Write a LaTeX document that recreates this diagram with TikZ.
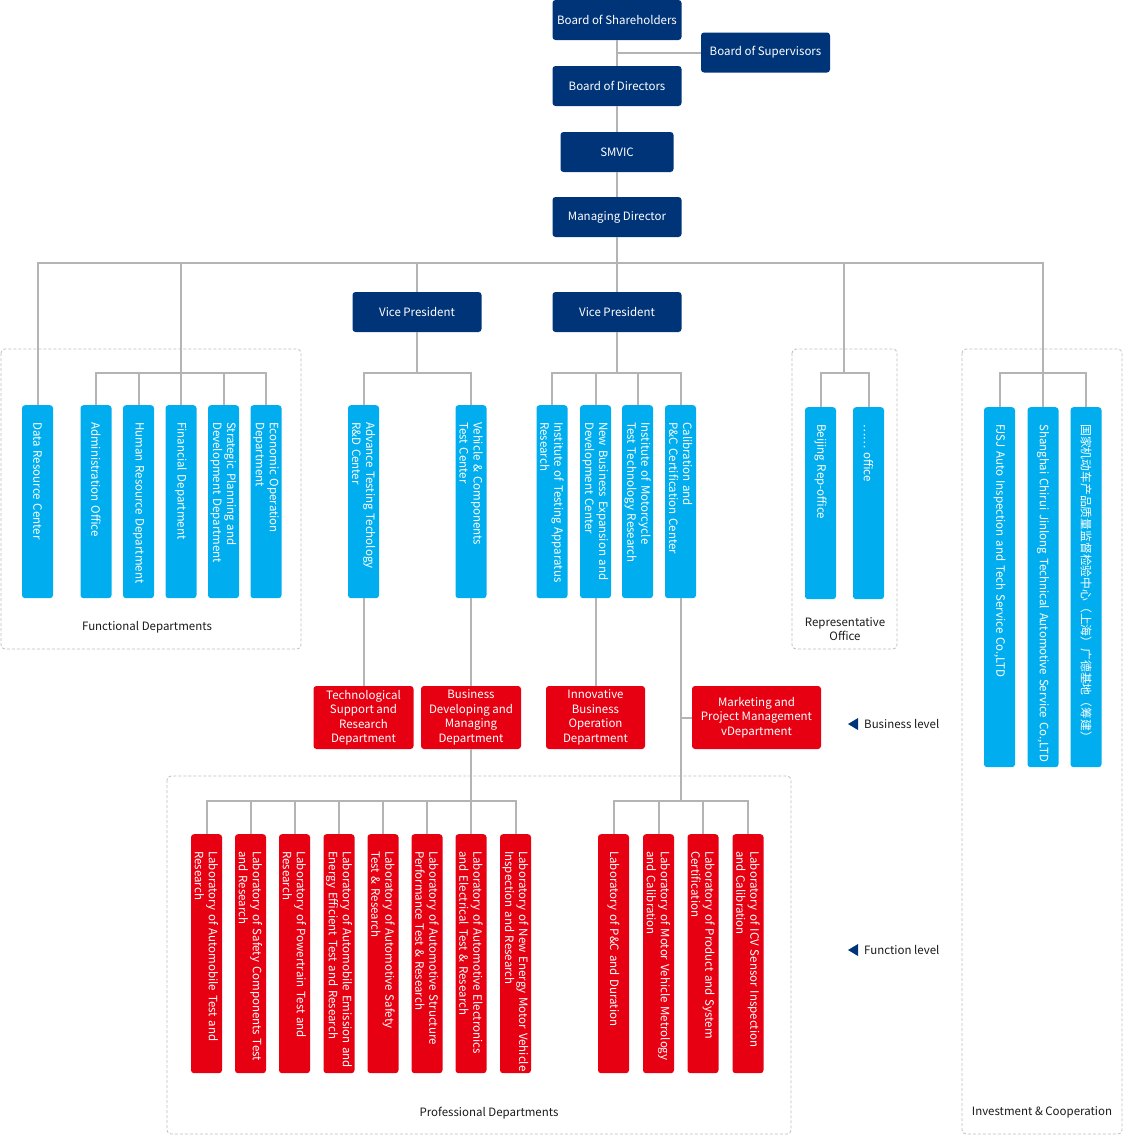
\documentclass[tikz,border=0pt]{standalone}
\usepackage{fontspec}
\setmainfont{Noto Sans CJK SC}
\usetikzlibrary{positioning}
\definecolor{SNavy}{HTML}{003478}
\definecolor{SSky}{HTML}{00AEEF}
\definecolor{SRed}{HTML}{E60012}
\definecolor{SGray}{HTML}{B4B4B4}
\definecolor{SDash}{HTML}{BDBDBD}
\definecolor{SInk}{HTML}{1A1A1A}
\newcommand{\chartfont}{\fontsize{11.5}{14}\selectfont}
\tikzset{
    topbox/.style = {fill=SNavy, text=white, rounded corners=3pt, inner sep=0pt,
        minimum height=40pt, minimum width=129pt, font=\chartfont},
    unitbox/.style = {fill=SRed, text=white, rounded corners=3pt, inner sep=0pt,
        minimum height=63pt, align=center, font=\fontsize{11.5}{14.5}\selectfont},
    colbox/.style = {rotate=-90, anchor=west, rounded corners=3pt, text=white,
        minimum height=31pt, minimum width=#1, text width=#1-2pt,
        inner xsep=1pt, inner ysep=0pt, align=left,
        execute at begin node={\leftskip=16pt\hyphenpenalty=10000}, font=\chartfont},
    bluecol/.style = {colbox=#1, fill=SSky},
    redcol/.style = {colbox=239pt, fill=SRed},
    link/.style = {draw=SGray, line width=2pt},
    groupframe/.style = {draw=SDash, dash pattern=on 3pt off 2pt, rounded corners=4pt, line width=0.8pt},
    grouplabel/.style = {text=SInk, align=center, font=\chartfont},
    levelmark/.style = {fill=SNavy},
    leveltext/.style = {anchor=west, text=SInk, inner sep=0pt, font=\chartfont}
}

\begin{document}
\begin{tikzpicture}[x=1pt,y=-1pt]
    \useasboundingbox (0,0) rectangle (1123,1135);
    \draw[groupframe] (1,349) rectangle (301,649);
    \draw[groupframe] (792,349) rectangle (897,649);
    \draw[groupframe] (962,349) rectangle (1122,1134);
    \draw[groupframe] (167,776) rectangle (791,1134);
    \node[grouplabel] (fdl) at (147,627) {Functional Departments};
    \node[grouplabel] (rol) at (845,629) {Representative\\Office};
    \node[grouplabel] (icl) at (1042,1112) {Investment \& Cooperation};
    \node[grouplabel] (pdl) at (489,1113) {Professional Departments};

    \node[topbox] (share) at (617,20) {Board of Shareholders};
    \node[topbox] (sup) at (765.5,52.5) {Board of Supervisors};
    \node[topbox] (board) at (617,86) {Board of Directors};
    \node[topbox, minimum width=113pt] (smvic) at (617,152) {SMVIC};
    \node[topbox] (md) at (617,217) {Managing Director};
    \node[topbox] (vp1) at (417,312) {Vice President};
    \node[topbox] (vp2) at (617,312) {Vice President};

    \node[bluecol=193pt] (drc) at (37.5,405) {Data Resource Center};
    \node[bluecol=193pt] (ado) at (96,405) {Administration Office};
    \node[bluecol=193pt] (hrd) at (138.5,405) {Human Resource Department};
    \node[bluecol=193pt] (fid) at (181,405) {Financial Department};
    \node[bluecol=193pt] (spd) at (223.5,405) {Strategic Planning and\\Development Department};
    \node[bluecol=193pt] (eod) at (266,405) {Economic Operation\\Department};

    \node[bluecol=193pt] (atc) at (363.5,405) {Advance Testing Techology\\R\&D Center};
    \node[bluecol=193pt] (vct) at (471,405) {Vehicle \& Components\\Test Center};
    \node[bluecol=193pt] (ita) at (552,405) {Institute of Testing Apparatus\\Research};
    \node[bluecol=193pt] (nbe) at (595.5,405) {New Business Expansion and\\Development Center};
    \node[bluecol=193pt] (imt) at (637.5,405) {Institute of Motorcycle\\Test Technology Research};
    \node[bluecol=193pt] (cpc) at (680.5,405) {Calibration and\\P\&C Certification Center};

    \node[bluecol=192pt] (bro) at (820.5,407) {Beijing Rep-office};
    \node[bluecol=192pt] (oof) at (868.5,407) {…… office};

    \node[bluecol=360pt] (fjs) at (999.5,407) {FJSJ Auto Inspection and Tech Service Co.,LTD};
    \node[bluecol=360pt] (scj) at (1043,407) {Shanghai Chirui Jinlong Technical Automotive Service Co.,LTD};
    \node[bluecol=360pt, font=\fontsize{11.8}{14}\selectfont] (gdj) at (1086,407) {国家机动车产品质量监督检验中心（上海）广德基地（筹建）};

    \node[unitbox, minimum width=100pt] (tsr) at (363.5,717.5) {Technological\\Support and\\Research\\Department};
    \node[unitbox, minimum width=100pt] (bdm) at (471,717.5) {Business\\Developing and\\Managing\\Department};
    \node[unitbox, minimum width=99pt] (ibo) at (595.5,717.5) {Innovative\\Business\\Operation\\Department};
    \node[unitbox, minimum width=129pt] (mpm) at (756.5,717.5) {Marketing and\\Project Management\\vDepartment};

    \node[redcol] (la1) at (206.5,834) {Laboratory of Automobile Test and\\Research};
    \node[redcol] (la2) at (250.5,834) {Laboratory of Safety Components Test\\and Research};
    \node[redcol] (la3) at (294.5,834) {Laboratory of Powertrain Test and\\Research};
    \node[redcol] (la4) at (339,834) {Laboratory of Automobile Emission and\\Energy Efficient Test and Research};
    \node[redcol] (la5) at (383,834) {Laboratory of Automotive Safety\\Test \& Research};
    \node[redcol] (la6) at (427,834) {Laboratory of Automotive Structure\\Performance Test \& Research};
    \node[redcol] (la7) at (471,834) {Laboratory of Automotive Electronics\\and Electrical Test \& Research};
    \node[redcol] (la8) at (515.5,834) {\mbox{Laboratory of New Energy Motor Vehicle}\\Inspection and Research};
    \node[redcol] (lb1) at (613.5,834) {Laboratory of P\&C and Duration};
    \node[redcol] (lb2) at (658.5,834) {Laboratory of Motor Vehicle Metrology\\and Calibration};
    \node[redcol] (lb3) at (703,834) {Laboratory of Product and System\\Certification};
    \node[redcol] (lb4) at (748,834) {Laboratory of ICV Sensor Inspection\\and Calibration};

    \coordinate (hub) at (617,263);
    \coordinate (fbar) at (181,373);
    \coordinate (vbar1) at (417,373);
    \coordinate (vbar2) at (617,373);
    \coordinate (rbar) at (844,373);
    \coordinate (ibar) at (1043,373);
    \coordinate (pbar1) at (471,801);
    \coordinate (pbar2) at (680.5,801);

    \draw[link] (share) -- (board);
    \draw[link] (sup.west) -- (sup.west -| share.south);
    \draw[link] (board) -- (smvic);
    \draw[link] (smvic) -- (md);
    \draw[link] (md) -- (vp2);
    \draw[link] (drc.west) |- (hub) -| (scj.west);
    \draw[link] (fid.west) -- (fid.west |- hub);
    \draw[link] (vp1) -- (vp1 |- hub);
    \draw[link] (rbar) -- (rbar |- hub);

    \draw[link] (ado.west) |- (fbar) -| (eod.west);
    \foreach \n in {hrd,spd} \draw[link] (\n.west) -- (\n.west |- fbar);
    \draw[link] (vp1) -- (vbar1);
    \draw[link] (atc.west) |- (vbar1) -| (vct.west);
    \draw[link] (vp2) -- (vbar2);
    \draw[link] (ita.west) |- (vbar2) -| (cpc.west);
    \foreach \n in {nbe,imt} \draw[link] (\n.west) -- (\n.west |- vbar2);
    \draw[link] (bro.west) |- (rbar) -| (oof.west);
    \draw[link] (fjs.west) |- (ibar) -| (gdj.west);

    \draw[link] (atc.east) -- (tsr);
    \draw[link] (vct.east) -- (bdm);
    \draw[link] (nbe.east) -- (ibo);
    \draw[link] (bdm) -- (pbar1);
    \draw[link] (la1.west) |- (pbar1) -| (la8.west);
    \foreach \n in {la2,la3,la4,la5,la6,la7} \draw[link] (\n.west) -- (\n.west |- pbar1);
    \draw[link] (cpc.east) -- (pbar2);
    \draw[link] (mpm.west) -- (mpm.west -| cpc.east);
    \draw[link] (lb1.west) |- (pbar2) -| (lb4.west);
    \foreach \n in {lb2,lb3} \draw[link] (\n.west) -- (\n.west |- pbar2);

    \fill[levelmark] (858,718) -- (848,724) -- (858,730) -- cycle;
    \node[leveltext] (bsl) at (864,724) {Business level};
    \fill[levelmark] (858,944) -- (848,950) -- (858,956) -- cycle;
    \node[leveltext] (fnl) at (864,950) {Function level};
\end{tikzpicture}
\end{document}
